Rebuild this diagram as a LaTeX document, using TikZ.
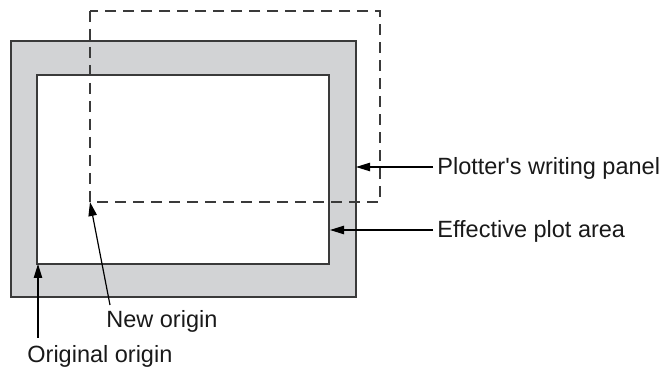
\documentclass[tikz,border=0pt]{standalone}
\usepackage{fontspec}
\setmainfont{Liberation Sans}
\usetikzlibrary{arrows.meta}
\definecolor{panelgray}{HTML}{D2D3D5}
\definecolor{ink}{HTML}{3A3A3A}
\begin{document}
\begin{tikzpicture}[x=0.5pt,y=-0.5pt,
  frame/.style={draw=ink,line width=0.85pt},
  dashbox/.style={draw=ink,line width=0.7pt,dash pattern=on 5.5pt off 3.5pt},
  arr/.style={draw=black,line width=0.6pt,-{Triangle[length=7pt,width=4.2pt]}},
  lbl/.style={anchor=base west,inner sep=0pt,font=\fontsize{11.75}{14}\selectfont,text=black!90}]
\useasboundingbox (0,0) rectangle (669,367);
% outer (gray) and inner (white) rectangles
\path[frame,fill=panelgray] (11,41) rectangle (356,297);
\path[frame,fill=white] (37,75) rectangle (329,264);
% dashed plotting panel
\path[dashbox] (90,11) rectangle (380,202);
% key points
\coordinate (panelEdge) at (356,167);
\coordinate (plotEdge) at (330,230);
\coordinate (newO) at (90,202);
\coordinate (origO) at (38,264);
% labels
\node[lbl] (panelL) at (437,175) {Plotter\textquotesingle s writing panel};
\node[lbl] (plotL) at (437,238) {Effective plot area};
\node[lbl] (newL) at (106,328) {New origin};
\node[lbl] (origL) at (27,363) {Original origin};
\coordinate (panelS) at (433,167);
\coordinate (plotS) at (433,230);
\coordinate (newS) at (110,305);
\coordinate (origS) at (38,338);
% arrows
\draw[arr] (panelS) -- (panelEdge);
\draw[arr] (plotS) -- (plotEdge);
\draw[arr] (newS) -- (newO);
\draw[arr] (origS) -- (origO);
\end{tikzpicture}
\end{document}
